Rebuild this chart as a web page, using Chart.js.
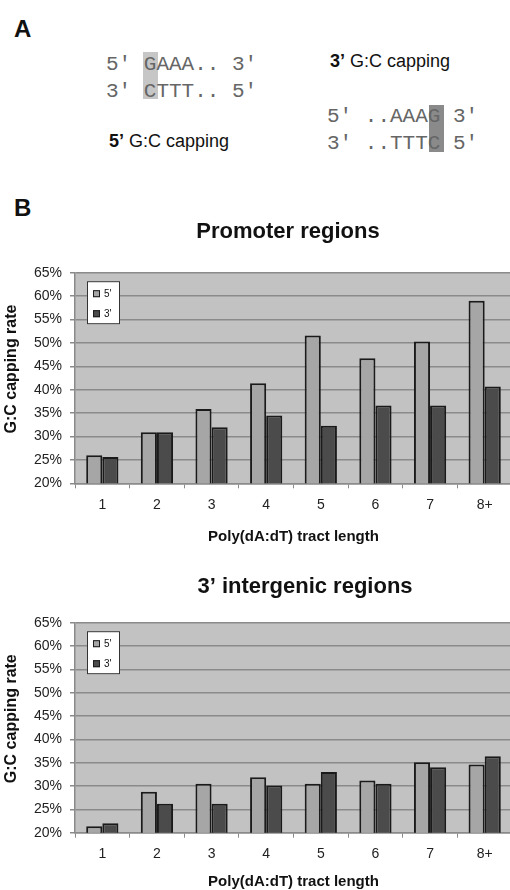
<!DOCTYPE html>
<html>
<head>
<meta charset="utf-8">
<script src="https://cdn.jsdelivr.net/npm/chart.js@4.4.1/dist/chart.umd.min.js"></script>
<style>
  html, body { margin: 0; padding: 0; background: #fff; }
  body { width: 510px; height: 890px; overflow: hidden; position: relative;
         font-family: "Liberation Sans", Arial, sans-serif; color: #111; }
  .abs { position: absolute; white-space: pre; }
  .panel { font-size: 24px; font-weight: bold; line-height: 24px; }
  .seq { font-family: "Liberation Mono", "Courier New", monospace; font-size: 21px;
         line-height: 27px; color: #666; }
  .cap { font-size: 18px; line-height: 18px; color: #111; }
  .hl { position: absolute; }
  .box { position: absolute; left: 0; width: 512px; }
</style>
</head>
<body>
  <!-- Panel A: G:C capping schematic -->
  <div class="abs panel" style="left:14px; top:17px;">A</div>
  <div class="hl" style="left:143px; top:52px; width:15px; height:47px; background:#c6c6c6;"></div>
  <div class="abs seq" style="left:106px; top:51px;">5′ GAAA.. 3′
3′ CTTT.. 5′</div>
  <div class="abs cap" style="left:330px; top:52px;"><b>3’</b> G:C capping</div>
  <div class="hl" style="left:429px; top:105px; width:15px; height:47px; background:#8a8a8a;"></div>
  <div class="abs seq" style="left:327px; top:103px;">5′ ..AAAG 3′
3′ ..TTTC 5′</div>
  <div class="abs cap" style="left:109px; top:132px;"><b>5’</b> G:C capping</div>

  <!-- Panel B -->
  <div class="abs panel" style="left:14px; top:196px;">B</div>
  <div class="box" style="top:210px; height:337px;"><canvas id="promoter"></canvas></div>
  <div class="box" style="top:565px; height:327px;"><canvas id="intergenic"></canvas></div>

<script>
// Poly(dA:dT) tract length categories
const categories = ['1', '2', '3', '4', '5', '6', '7', '8+'];
const seriesLabels = ["5'", "3'"];

// G:C capping rate (%) in promoter regions
const promoter5 = [26.0, 30.9, 35.9, 41.4, 51.6, 46.7, 50.3, 59.0];
const promoter3 = [25.6, 30.9, 32.0, 34.5, 32.3, 36.6, 36.6, 40.7];

// G:C capping rate (%) in 3' intergenic regions
const intergenic5 = [21.4, 28.8, 30.5, 31.9, 30.5, 31.2, 35.1, 34.6];
const intergenic3 = [22.0, 26.2, 26.2, 30.1, 33.0, 30.5, 34.0, 36.4];

// y-axis tick values (%)
const yTicks = [20, 25, 30, 35, 40, 45, 50, 55, 60, 65];

const FONT = '"Liberation Sans", Arial, sans-serif';
const COLOR_5 = '#a6a6a6';
const COLOR_3 = '#4b4b4b';
const EDGE = '#1a1a1a';
const PLOT_BG = '#c2c2c2';
const GRID = '#8a8a8a';

// Grey plot area, in-plot legend box, chart title and rotated y-axis title
const decorations = {
  id: 'decorations',
  beforeDraw(chart, args, opts) {
    const a = chart.chartArea;
    const ctx = chart.ctx;
    ctx.save();
    ctx.fillStyle = PLOT_BG;
    ctx.fillRect(a.left, a.top, a.right - a.left, a.bottom - a.top);
    ctx.restore();
  },
  afterDraw(chart, args, opts) {
    const a = chart.chartArea;
    const ctx = chart.ctx;
    ctx.save();
    // title
    ctx.fillStyle = '#111';
    ctx.font = 'bold 22px ' + FONT;
    ctx.textAlign = 'center';
    ctx.textBaseline = 'alphabetic';
    ctx.fillText(opts.title, opts.titleX, opts.titleBaseline);
    // y-axis title
    ctx.font = 'bold 16px ' + FONT;
    ctx.textBaseline = 'middle';
    ctx.translate(12, (a.top + a.bottom) / 2 - 9);
    ctx.rotate(-Math.PI / 2);
    ctx.fillText(opts.yTitle, 0, 0);
    ctx.restore();

    // legend box
    const lx = a.left + 12, ly = a.top + 8.5, lw = 33, lh = 43;
    ctx.save();
    ctx.fillStyle = '#fff';
    ctx.fillRect(lx, ly, lw, lh);
    ctx.strokeStyle = '#333';
    ctx.lineWidth = 1;
    ctx.strokeRect(lx + 0.5, ly + 0.5, lw - 1, lh - 1);
    ctx.font = '10px ' + FONT;
    ctx.textAlign = 'left';
    ctx.textBaseline = 'middle';
    chart.data.datasets.forEach((ds, i) => {
      const cy = ly + 12.5 + i * 20;
      ctx.fillStyle = ds.backgroundColor;
      ctx.fillRect(lx + 6, cy - 3.5, 7, 7);
      ctx.strokeStyle = EDGE;
      ctx.strokeRect(lx + 6.5, cy - 3, 6, 6);
      ctx.fillStyle = '#111';
      ctx.fillText(ds.label, lx + 17, cy + 0.5);
    });
    ctx.restore();
  }
};

function makeChart(id, title, titleX, values5, values3, areaTop, xScaleHeight) {
  return new Chart(document.getElementById(id), {
    type: 'bar',
    data: {
      labels: categories,
      datasets: [
        { label: seriesLabels[0], data: values5, backgroundColor: COLOR_5 },
        { label: seriesLabels[1], data: values3, backgroundColor: COLOR_3 }
      ]
    },
    options: {
      responsive: true,
      maintainAspectRatio: false,
      animation: false,
      layout: { padding: { top: areaTop, left: 0, right: 0, bottom: 0 } },
      datasets: {
        bar: {
          categoryPercentage: 0.59,
          barPercentage: 1.0,
          borderColor: EDGE,
          borderWidth: 2,
          borderSkipped: false
        }
      },
      plugins: {
        legend: { display: false },
        tooltip: { enabled: false },
        decorations: {
          title: title,
          titleX: titleX,
          titleBaseline: 28,
          yTitle: 'G:C capping rate'
        }
      },
      scales: {
        x: {
          offset: true,
          grid: { drawOnChartArea: false, drawTicks: true, tickLength: 5, color: GRID, lineWidth: 1 },
          border: { color: GRID, width: 1.5 },
          ticks: { color: '#222', padding: 8, font: { family: FONT, size: 14 } },
          title: {
            display: true,
            text: 'Poly(dA:dT) tract length',
            color: '#111',
            font: { family: FONT, size: 15, weight: 'bold' },
            padding: { top: 4, bottom: 1 }
          },
          afterFit(scale) { scale.height = xScaleHeight; }
        },
        y: {
          min: yTicks[0],
          max: yTicks[yTicks.length - 1],
          grid: { color: GRID, lineWidth: 1.5, tickLength: 5 },
          border: { color: GRID, width: 1.5 },
          ticks: {
            stepSize: yTicks[1] - yTicks[0],
            color: '#222',
            padding: 8,
            font: { family: FONT, size: 14 },
            callback: (v) => v + '%'
          },
          afterFit(scale) { scale.width = 75; }
        }
      }
    },
    plugins: [decorations]
  });
}

makeChart('promoter', 'Promoter regions', 288, promoter5, promoter3, 62.7, 63.7);
makeChart('intergenic', '3’ intergenic regions', 305, intergenic5, intergenic3, 57.7, 59.3);
</script>
</body>
</html>
